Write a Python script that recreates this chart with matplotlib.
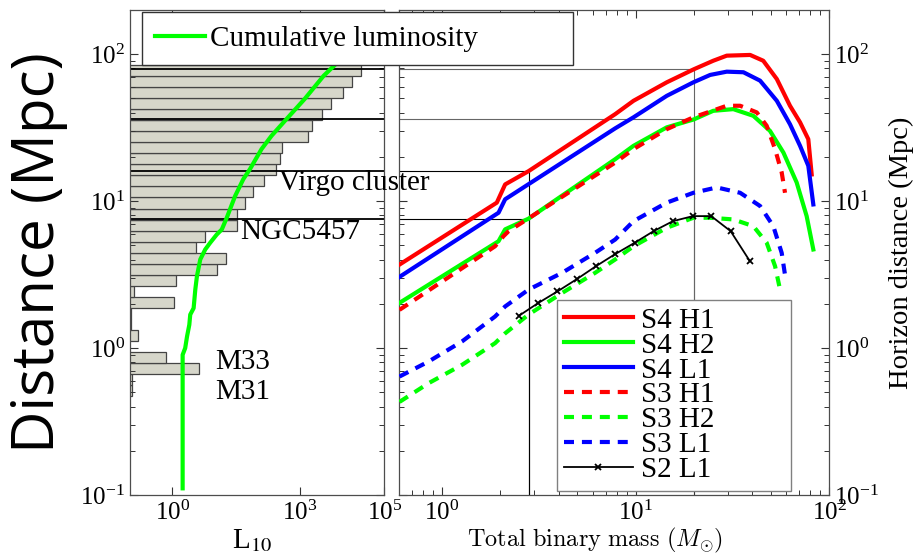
import numpy as np
import matplotlib
matplotlib.use('Agg')
import matplotlib.pyplot as plt
from matplotlib.lines import Line2D
from matplotlib.ticker import LogLocator, NullLocator, NullFormatter

plt.rcParams['font.family'] = ['Liberation Serif', 'DejaVu Serif']
plt.rcParams['mathtext.fontset'] = 'stix'

# luminosity histogram, 40 log bins between 0.1 and 100 Mpc (bottom bin first)
dist_edges = np.logspace(-1, 2, 41)
lum_hist = [0, 0, 0, 0, 0, 0, 0, 0, 0, 0.11,
            0.11, 4.2, 0.72, 0, 0.15, 0.105, 0.105, 1.1, 0.126, 1.2,
            11, 18, 3.5, 5.8, 34, 33, 52, 79, 145, 280,
            340, 390, 1550, 2000, 3400, 5600, 10700, 17000, 27500, 0]

# cumulative luminosity vs distance
cum_dist = [0.111, 0.90, 1.0, 1.20, 1.44, 1.69, 1.87, 2.50, 3.08, 4.01, 4.69, 5.21,
            5.93, 6.42, 7.71, 10.8, 14.1, 16.5, 22.6, 27.8, 36.1, 49.5, 71.4, 90.3, 109]
cum_lum = [1.74, 1.74, 2.0, 2.21, 2.5, 2.63, 3.16, 3.46, 3.78, 4.53, 5.93, 7.76,
           11.1, 14.6, 19.1, 29.9, 46.8, 67.1, 126, 216, 485, 1303, 3690, 8590, 13000]

ref_dist = [79, 36, 16, 7.6]
ref_mass = [20, 20, 2.8, 2.8]
ref_color = ['0.4', '0.4', 'k', 'k']

# horizon distance curves
s4h1_m = [0.603, 1.92, 2.12, 2.8, 7.85, 9.76, 14.5, 20, 25.2, 29.6, 39.1, 45.7, 53.7, 62.8, 70.8, 78.1, 81.3]
s4h1_d = [3.70, 9.77, 13.0, 16.0, 39.1, 48.2, 64.4, 79, 90.3, 97.8, 98.9, 90.3, 67.8, 44.6, 34.4, 26.4, 15.2]

s4l1_m = [0.603, 1.96, 2.12, 7.85, 9.76, 14.5, 19.9, 24.3, 29.6, 36.1, 44.0, 53.7, 62.8, 70.8, 78.1, 82.9]
s4l1_d = [3.05, 8.34, 10.3, 31.3, 37.2, 52.1, 64.4, 72.3, 76.1, 75.4, 66.1, 48.2, 33.4, 23.8, 17.4, 9.5]

s4h2_m = [0.603, 1.96, 2.12, 2.8, 7.85, 9.76, 14.5, 20, 25.2, 32.0, 40.6, 49.5, 58.1, 68.0, 76.6, 82.9]
s4h2_d = [2.03, 5.34, 6.43, 7.6, 19.3, 23.8, 31.8, 36, 41.2, 42.3, 38.1, 30.1, 21.4, 13.4, 7.9, 4.69]

s3h1_m = [0.603, 1.88, 2.08, 2.21, 7.85, 9.76, 14.5, 19.9, 29.6, 34.7, 42.3, 47.6, 52.6, 56.9, 59.2]
s3h1_d = [1.82, 4.93, 5.78, 6.25, 18.3, 22.6, 30.9, 37.2, 44.6, 44.6, 40.2, 32.6, 22.6, 15.7, 11.4]

s3h2_m = [0.603, 0.853, 1.27, 1.88, 2.12, 2.8, 4.17, 6.18, 7.85, 9.76, 14.5, 19.9, 24.3, 32.0, 40.6, 47.6, 52.6, 55.8]
s3h2_d = [0.43, 0.577, 0.769, 1.08, 1.26, 1.69, 2.37, 3.25, 4.01, 4.93, 6.59, 7.71, 7.71, 7.51, 6.76, 5.21, 3.61, 2.50]

s3l1_m = [0.603, 0.853, 1.27, 1.88, 2.12, 2.8, 4.17, 6.18, 7.85, 9.76, 14.5, 19.9, 26.3, 34.7, 44.0, 51.5, 56.9, 59.2]
s3l1_d = [0.64, 0.81, 1.11, 1.64, 1.92, 2.50, 3.25, 4.45, 5.48, 7.31, 9.77, 11.4, 12.4, 11.4, 9.27, 6.76, 4.45, 3.15]

s2l1_m = [2.5, 3.15, 3.95, 5.0, 6.25, 7.8, 9.9, 12.4, 15.6, 19.8, 24.6, 31, 39]
s2l1_d = [1.66, 2.03, 2.43, 2.96, 3.61, 4.34, 5.21, 6.25, 7.31, 7.91, 7.91, 6.25, 3.90]

fig = plt.figure(figsize=(9.15, 5.56), dpi=100)
ax1 = fig.add_axes([0.1421, 0.1097, 0.2781, 0.8723])
ax2 = fig.add_axes([0.4361, 0.1097, 0.4700, 0.8723])
ax1.set_zorder(1)   # galaxy labels may run over into the right panel

# ---- left panel: luminosity histogram
bin_lo = dist_edges[:-1]
bin_h = np.diff(dist_edges)
ax1.barh(bin_lo, lum_hist, height=bin_h, left=1e-3, align='edge',
         color='#d6d6ca', edgecolor='#444444', linewidth=0.9, zorder=1)
for d in ref_dist:
    ax1.axhline(d, color='k', lw=1.3, zorder=2)
ax1.plot(cum_lum, cum_dist, color='#00ff00', lw=3.0, zorder=3)

ax1.set_xscale('log')
ax1.set_yscale('log')
ax1.set_xlim(0.1, 1e5)
ax1.set_ylim(0.1, 200)
ax1.set_xticks([1, 1e3, 1e5])
ax1.xaxis.set_minor_locator(NullLocator())
ax1.yaxis.set_major_locator(LogLocator(base=10, numticks=10))
ax1.yaxis.set_minor_locator(LogLocator(base=10, subs=np.arange(2, 10), numticks=10))
ax1.yaxis.set_minor_formatter(NullFormatter())

tk = dict(fontsize=21)
ax1.text(320, 13.2, 'Virgo cluster', va='center', ha='left', **tk)
ax1.text(39, 6.2, 'NGC5457', va='center', ha='left', **tk)
ax1.text(10, 0.80, 'M33', va='center', ha='left', **tk)
ax1.text(10, 0.50, 'M31', va='center', ha='left', **tk)

ax1.set_xlabel('L$_{10}$', fontsize=21)
ax1.xaxis.set_label_coords(0.479, -0.066)
ax1.set_ylabel('Distance (Mpc)', fontsize=42, family=['Open Sans', 'DejaVu Sans'])
ax1.yaxis.set_label_coords(-0.245, 0.5)

# ---- right panel: horizon distance curves
for d, m, c in zip(ref_dist, ref_mass, ref_color):
    ax2.plot([0.6, m], [d, d], color=c, lw=0.8, zorder=1)
    ax2.plot([m, m], [0.1, d], color=c, lw=0.8, zorder=1)

lw = 3.0
ax2.plot(s4h1_m, s4h1_d, color='#ff0000', lw=lw, label='S4 H1', zorder=3)
ax2.plot(s4h2_m, s4h2_d, color='#00ff00', lw=lw, label='S4 H2', zorder=3)
ax2.plot(s4l1_m, s4l1_d, color='#0000ff', lw=lw, label='S4 L1', zorder=3)
ax2.plot(s3h1_m, s3h1_d, color='#ff0000', lw=lw, ls=(0, (2.4, 1.9)), label='S3 H1', zorder=4)
ax2.plot(s3h2_m, s3h2_d, color='#00ff00', lw=lw, ls=(0, (2.4, 1.9)), label='S3 H2', zorder=4)
ax2.plot(s3l1_m, s3l1_d, color='#0000ff', lw=lw, ls=(0, (2.4, 1.9)), label='S3 L1', zorder=4)
ax2.plot(s2l1_m, s2l1_d, color='k', lw=1.3, marker='x', ms=4, mew=1.3, label='S2 L1', zorder=5)

ax2.set_xscale('log')
ax2.set_yscale('log')
ax2.set_xlim(0.6, 100)
ax2.set_ylim(0.1, 200)
for a in (ax2.xaxis, ax2.yaxis):
    a.set_major_locator(LogLocator(base=10, numticks=10))
    a.set_minor_locator(LogLocator(base=10, subs=np.arange(2, 10), numticks=10))
    a.set_minor_formatter(NullFormatter())

ax2.xaxis.set_label_text(r'$\mathrm{Total\ binary\ mass}\ (M_{\odot})$')
ax2.xaxis.label.set_math_fontfamily('cm')
ax2.xaxis.label.set_fontsize(17.5)
ax2.xaxis.set_label_coords(0.456, -0.064)

ax2.yaxis.set_label_position('right')
ax2.set_ylabel('Horizon distance (Mpc)', fontsize=20.5)
ax2.yaxis.set_label_coords(1.14, 0.5)

leg2 = ax2.legend(loc='lower left', bbox_to_anchor=(0.367, 0.009, 0.545, 0.4),
                  mode='expand', fontsize=21, frameon=True, fancybox=False,
                  framealpha=1, edgecolor='0.5', handlelength=2.35, handletextpad=0.3,
                  labelspacing=-0.05, borderpad=0.25, borderaxespad=0)
leg2.get_frame().set_linewidth(1.0)

for ax in (ax1, ax2):
    ax.tick_params(which='both', direction='in', top=True, right=True, labelsize=18, colors='0.2',
                   labelcolor='k')
    ax.tick_params(which='major', length=6, width=0.8)
    ax.tick_params(which='minor', length=3.5, width=0.7)
    for s in ax.spines.values():
        s.set_color('0.3')
        s.set_linewidth(0.9)
ax2.tick_params(axis='y', which='both', labelleft=False, labelright=True)
ax1.tick_params(axis='x', pad=4)
ax2.tick_params(axis='x', pad=4)

# legend for the cumulative curve, spanning across both panels
h = Line2D([], [], color='#00ff00', lw=3.0)
leg1 = fig.legend([h], ['Cumulative luminosity'], loc='upper left',
                  bbox_to_anchor=(0.155, 0.978, 0.471, 0.0), mode='expand',
                  fontsize=21, frameon=True, fancybox=False, framealpha=1,
                  edgecolor='0.2', handlelength=1.7, handletextpad=0.2,
                  borderpad=0.45, borderaxespad=0)
leg1.get_frame().set_linewidth(1.0)

fig.savefig('out.png', dpi=100)
